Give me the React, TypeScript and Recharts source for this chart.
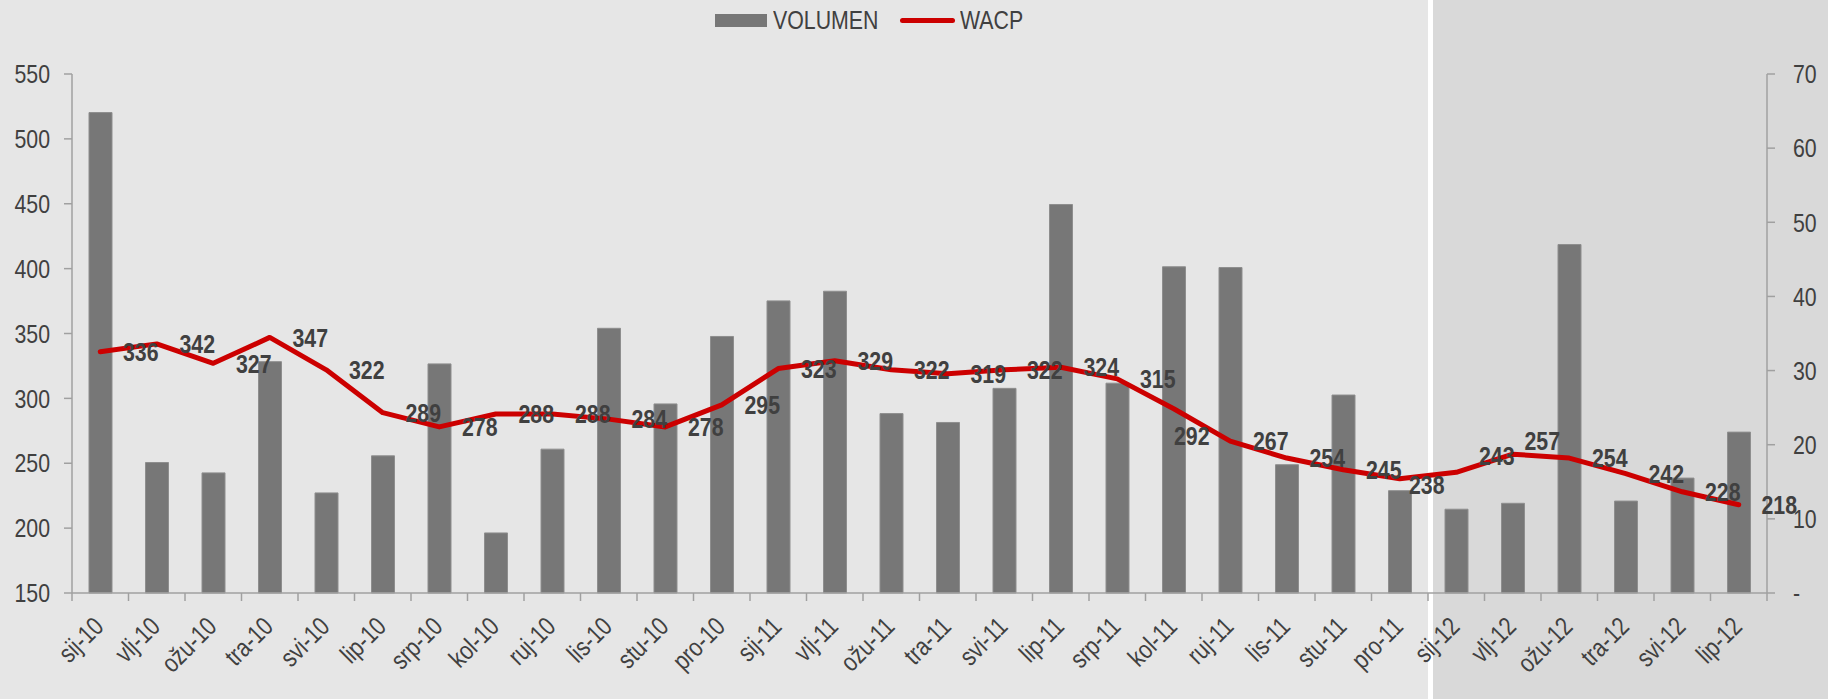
import React from 'react';
import { ComposedChart, Bar, Line, XAxis, YAxis, Legend, LabelList } from 'recharts';

const months = [
  'sij-10', 'vlj-10', 'ožu-10', 'tra-10', 'svi-10', 'lip-10', 'srp-10', 'kol-10', 'ruj-10', 'lis-10', 'stu-10', 'pro-10',
  'sij-11', 'vlj-11', 'ožu-11', 'tra-11', 'svi-11', 'lip-11', 'srp-11', 'kol-11', 'ruj-11', 'lis-11', 'stu-11', 'pro-11',
  'sij-12', 'vlj-12', 'ožu-12', 'tra-12', 'svi-12', 'lip-12',
];
const volumen = [
  64.8, 17.6, 16.2, 31.2, 13.5, 18.5, 30.9, 8.1, 19.4, 35.7, 25.5, 34.6,
  39.4, 40.7, 24.2, 23.0, 27.6, 52.4, 28.3, 44.0, 43.9, 17.3, 26.7, 13.8,
  11.3, 12.1, 47.0, 12.4, 15.5, 21.7,
];
const wacp = [
  336, 342, 327, 347, 322, 289, 278, 288, 288, 284, 278, 295,
  323, 329, 322, 319, 322, 324, 315, 292, 267, 254, 245, 238,
  243, 257, 254, 242, 228, 218,
];
const leftTicks = [150, 200, 250, 300, 350, 400, 450, 500, 550];
const rightTicks = [0, 10, 20, 30, 40, 50, 60, 70];
const shadedFrom = 'sij-12';

const data = months.map((m, i) => ({ month: m, volumen: volumen[i], wacp: wacp[i] }));

const W = 1828;
const H = 699;
const LEFT_W = 72;
const RIGHT_W = 61;
const X_H = 106;
const LEGEND_H = 40;
const band = (W - LEFT_W - RIGHT_W) / months.length;

// no Arial Narrow here, so squeeze Liberation Sans (Arial metrics) to ~82%
const FONT = "'Liberation Sans', Arial, sans-serif";
const NARROW = 0.82;
const TEXT = '#404040';
const AXIS = '#a0a0a0';

// a few labels were moved by hand in the original
const labelNudge: Record<string, [number, number]> = {
  'pro-11': [27, 6],
  'kol-11': [18, 27],
  'sij-12': [40.5, -17],
  'vlj-12': [29.5, -13],
};

function NarrowText({ x, y, rotate = 0, anchor, dy, bold, children }: any) {
  return (
    <text
      transform={`translate(${x} ${y}) rotate(${rotate}) scale(${NARROW} 1)`}
      textAnchor={anchor}
      dy={dy}
      fill={TEXT}
      fontSize={26}
      fontWeight={bold ? 700 : 400}
      fontFamily={FONT}
    >
      {children}
    </text>
  );
}

function MonthTick(props: any) {
  const { x, y, payload, index } = props;
  const left = x - band / 2;
  return (
    <g>
      <line x1={left} x2={left} y1={y - 8} y2={y} stroke={AXIS} strokeWidth={1.5} />
      {index === months.length - 1 && (
        <line x1={x + band / 2} x2={x + band / 2} y1={y - 8} y2={y} stroke={AXIS} strokeWidth={1.5} />
      )}
      <NarrowText x={x + 5} y={y + 27} rotate={-45} anchor="end">
        {payload.value}
      </NarrowText>
    </g>
  );
}

function LeftTick(props: any) {
  const { x, y, payload } = props;
  return (
    <NarrowText x={x} y={y} anchor="end" dy="0.355em">
      {payload.value}
    </NarrowText>
  );
}

function RightTick(props: any) {
  const { x, y, payload } = props;
  return (
    <NarrowText x={x} y={y} anchor="start" dy="0.355em">
      {payload.value === 0 ? '-' : payload.value}
    </NarrowText>
  );
}

function PriceLabel(props: any) {
  const { x, y, value, index } = props;
  const [dx, dy] = labelNudge[months[index]] ?? [40.5, 0];
  return (
    <NarrowText x={x + dx} y={y + dy} anchor="middle" dy="0.355em" bold>
      {value}
    </NarrowText>
  );
}

function LegendBox({ payload }: any) {
  return (
    <div
      style={{
        display: 'flex',
        justifyContent: 'center',
        alignItems: 'center',
        height: LEGEND_H,
        paddingRight: 71,
        fontFamily: FONT,
        fontSize: 26,
        color: TEXT,
      }}
    >
      {(payload || []).map((p: any) => (
        <div key={p.value} style={{ display: 'flex', alignItems: 'center', marginRight: 21 }}>
          {p.type === 'rect' ? (
            <span style={{ width: 52, height: 13, background: p.color, marginRight: 6 }} />
          ) : (
            <span style={{ width: 55, height: 5, background: p.color, borderRadius: 3, marginRight: 5 }} />
          )}
          <span style={{ display: 'inline-block', width: p.value.length * 15.1, whiteSpace: 'nowrap' }}>
            <span style={{ display: 'inline-block', transform: `scaleX(${NARROW})`, transformOrigin: 'left center' }}>
              {p.value}
            </span>
          </span>
        </div>
      ))}
    </div>
  );
}

export default function App() {
  const splitX = LEFT_W + months.indexOf(shadedFrom) * band;
  return (
    <div style={{ position: 'absolute', left: 0, top: 0, width: W, height: H, background: '#e6e6e6', overflow: 'hidden' }}>
      <div
        style={{
          position: 'absolute',
          left: splitX,
          top: 0,
          width: W - splitX,
          height: H,
          background: '#d9d9d9',
          borderLeft: '5px solid #ffffff',
          boxSizing: 'border-box',
        }}
      />
      <ComposedChart width={W} height={H} data={data} margin={{ top: 34, right: 0, bottom: 0, left: 0 }}>
        <Legend verticalAlign="top" wrapperStyle={{ top: 0 }} content={<LegendBox />} />
        <XAxis
          dataKey="month"
          interval={0}
          height={X_H}
          tickLine={false}
          tickSize={8}
          tickMargin={0}
          axisLine={{ stroke: AXIS, strokeWidth: 1.5 }}
          tick={<MonthTick />}
        />
        <YAxis
          yAxisId="left"
          domain={[150, 550]}
          ticks={leftTicks}
          width={LEFT_W}
          tickSize={8}
          tickMargin={14}
          axisLine={{ stroke: AXIS, strokeWidth: 1.5 }}
          tickLine={{ stroke: AXIS, strokeWidth: 1.5 }}
          tick={<LeftTick />}
        />
        <YAxis
          yAxisId="right"
          orientation="right"
          domain={[0, 70]}
          ticks={rightTicks}
          width={RIGHT_W}
          tickSize={8}
          tickMargin={18}
          axisLine={{ stroke: AXIS, strokeWidth: 1.5 }}
          tickLine={{ stroke: AXIS, strokeWidth: 1.5 }}
          tick={<RightTick />}
        />
        <Bar
          yAxisId="right"
          dataKey="volumen"
          name="VOLUMEN"
          barSize={23}
          fill="#777777"
          stroke="#8e8e8e"
          strokeWidth={1}
          isAnimationActive={false}
        />
        <Line
          yAxisId="left"
          type="linear"
          dataKey="wacp"
          name="WACP"
          stroke="#cc0000"
          strokeWidth={5}
          strokeLinecap="round"
          strokeLinejoin="round"
          dot={false}
          activeDot={false}
          isAnimationActive={false}
        >
          <LabelList dataKey="wacp" content={<PriceLabel />} />
        </Line>
      </ComposedChart>
    </div>
  );
}
